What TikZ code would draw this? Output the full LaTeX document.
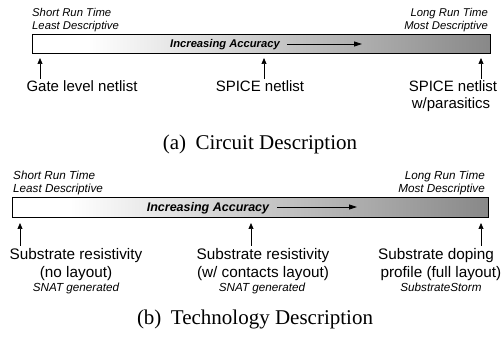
\documentclass[tikz,border=0pt]{standalone}
\usepackage{fontspec}
\setmainfont{Liberation Serif}
\setsansfont{Liberation Sans}
\usetikzlibrary{arrows.meta}
\definecolor{barg}{HTML}{888888}
\pgfdeclarehorizontalshading{barshade}{100bp}{color(0bp)=(white); color(25bp)=(white); color(31bp)=(white); color(75bp)=(barg); color(100bp)=(barg)}
\begin{document}
\begin{tikzpicture}[x=1pt,y=-1pt,
  smallit/.style={font=\sffamily\itshape\fontsize{11.3}{13}\selectfont, inner sep=0pt},
  smallitb/.style={font=\sffamily\itshape\fontsize{11.7}{13}\selectfont, inner sep=0pt},
  lbl/.style={font=\sffamily\fontsize{15}{17.5}\selectfont, inner sep=0pt},
  lblb/.style={font=\sffamily\fontsize{15.3}{17.5}\selectfont, inner sep=0pt},
  ia/.style={font=\sffamily\bfseries\itshape\fontsize{11.2}{13}\selectfont, inner sep=0pt},
  iab/.style={font=\sffamily\bfseries\itshape\fontsize{12.5}{14}\selectfont, inner sep=0pt},
  captext/.style={font=\rmfamily\fontsize{21}{24}\selectfont, inner sep=0pt},
  barbox/.style={draw=black, line width=0.9pt, shading=barshade, inner sep=0pt, anchor=north west},
  accarr/.style={line width=0.8pt, -{Triangle[length=8pt,width=5pt]}},
  uparr/.style={line width=0.7pt, -{Triangle[length=6pt,width=5pt]}}
]
\useasboundingbox (0,0) rectangle (504,339);

% ---------- (a) Circuit Description ----------
\node[smallit, anchor=base west] (srt1) at (32,17) {Short Run Time};
\node[smallit, anchor=base west] (ld1) at (32,30) {Least Descriptive};
\node[smallit, anchor=base east] (lrt1) at (488,17) {Long Run Time};
\node[smallit, anchor=base east] (md1) at (488,30) {Most Descriptive};

\node[barbox, minimum width=458pt, minimum height=19pt] (bar1) at (32,34) {};
\node[ia, anchor=base] (ia1) at (225,48) {Increasing Accuracy};
\coordinate (ia1s) at (287,44);
\coordinate (ia1e) at (362,44);
\draw[accarr] (ia1s) -- (ia1e);

\coordinate (t11) at (40,79);  \coordinate (h11) at (40,58);
\coordinate (t12) at (264,79); \coordinate (h12) at (264,58);
\coordinate (t13) at (481,79); \coordinate (h13) at (481,58);
\draw[uparr] (t11) -- (h11);
\draw[uparr] (t12) -- (h12);
\draw[uparr] (t13) -- (h13);

\node[lbl, anchor=base] (gl) at (82,92) {Gate level netlist};
\node[lbl, anchor=base] (sp) at (260,92) {SPICE netlist};
\node[lbl, anchor=base] (spp1) at (453,92) {SPICE netlist};
\node[lbl, anchor=base] (spp2) at (451,109) {w/parasitics};

\node[captext, anchor=base] (capa) at (260,150) {(a)\hspace{0.45em}Circuit Description};

% ---------- (b) Technology Description ----------
\node[smallitb, anchor=base west] (srt2) at (13,180) {Short Run Time};
\node[smallitb, anchor=base west] (ld2) at (13,193) {Least Descriptive};
\node[smallitb, anchor=base east] (lrt2) at (485,180) {Long Run Time};
\node[smallitb, anchor=base east] (md2) at (485,193) {Most Descriptive};

\node[barbox, minimum width=476pt, minimum height=20pt] (bar2) at (12,197) {};
\node[iab, anchor=base] (ia2) at (208,211.5) {Increasing Accuracy};
\coordinate (ia2s) at (277,207);
\coordinate (ia2e) at (357,207);
\draw[accarr] (ia2s) -- (ia2e);

\coordinate (t21) at (20,246);  \coordinate (h21) at (20,223);
\coordinate (t22) at (251,246); \coordinate (h22) at (251,223);
\coordinate (t23) at (481,246); \coordinate (h23) at (481,223);
\draw[uparr] (t21) -- (h21);
\draw[uparr] (t22) -- (h22);
\draw[uparr] (t23) -- (h23);

\node[lblb, anchor=base] (sr1a) at (76,260) {Substrate resistivity};
\node[lblb, anchor=base] (sr1b) at (76,278) {(no layout)};
\node[smallitb, anchor=base] (sn1) at (76,292) {SNAT generated};

\node[lblb, anchor=base] (sr2a) at (263,260) {Substrate resistivity};
\node[lblb, anchor=base] (sr2b) at (263,278) {(w/ contacts layout)};
\node[smallitb, anchor=base] (sn2) at (262,292) {SNAT generated};

\node[lblb, anchor=base] (sd1) at (436,260) {Substrate doping};
\node[lblb, anchor=base] (sd2) at (441,278) {profile (full layout)};
\node[smallitb, anchor=base] (ss) at (441,292) {SubstrateStorm};

\node[captext, anchor=base] (capb) at (255,325) {(b)\hspace{0.45em}Technology Description};
\end{tikzpicture}
\end{document}
